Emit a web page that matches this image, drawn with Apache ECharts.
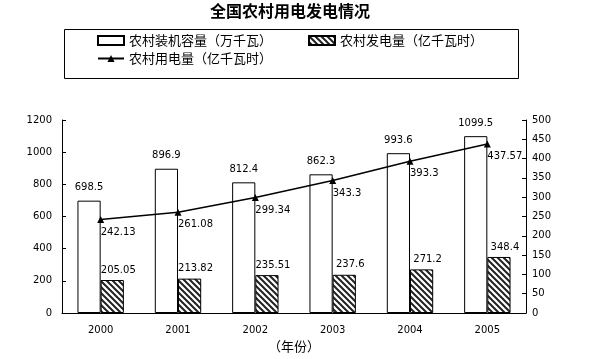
<!DOCTYPE html>
<html><head><meta charset="utf-8">
<script src="https://cdn.jsdelivr.net/npm/echarts@6/dist/echarts.min.js"></script>
<style>html,body{margin:0;padding:0;background:#fff}#c{width:599px;height:359px}</style>
</head><body><div id="c"></div>
<script>
const years = ['2000','2001','2002','2003','2004','2005'];
const capacity = [698.5, 896.9, 812.4, 862.3, 993.6, 1099.5];
const generation = [205.05, 213.82, 235.51, 237.6, 271.2, 348.4];
const consumption = [242.13, 261.08, 299.34, 343.3, 393.3, 437.57];
const names = ['农村装机容量（万千瓦）', '农村发电量（亿千瓦时）', '农村用电量（亿千瓦时）'];

const pc = document.createElement('canvas');
pc.width = 6; pc.height = 6;
const g = pc.getContext('2d');
g.fillStyle = '#fff'; g.fillRect(0,0,6,6);
g.strokeStyle = '#222'; g.lineWidth = 2;
g.beginPath();
g.moveTo(-1,-1); g.lineTo(7,7);
g.moveTo(-4,2); g.lineTo(4,10);
g.moveTo(2,-4); g.lineTo(10,4);
g.stroke();

const numFont = 'DejaVu Sans';
const cjk = '"Noto Sans CJK SC", sans-serif';
const chart = echarts.init(document.getElementById('c'), null, {renderer: 'canvas'});
const legendBase = {
  itemWidth: 26, itemHeight: 9, itemGap: 5, padding: 0,
  textStyle: {fontFamily: cjk, fontSize: 13, color: '#000'},
  selectedMode: false
};
const plain = v => String(v);
chart.setOption({
  animation: false,
  title: {text: '全国农村用电发电情况', left: 210, top: 3, padding: 0,
    textStyle: {fontFamily: cjk, fontSize: 16, fontWeight: 'bold', color: '#000'}},
  graphic: [{type: 'rect', shape: {x: 64.5, y: 29.5, width: 454, height: 49},
    style: {fill: 'none', stroke: '#000', lineWidth: 1}}],
  legend: [
    Object.assign({}, legendBase, {left: 97, top: 34, data: [{name: names[0], icon: 'rect'}]}),
    Object.assign({}, legendBase, {left: 308, top: 34, data: [{name: names[1], icon: 'rect'}]}),
    Object.assign({}, legendBase, {left: 97, top: 52, data: [names[2]]})
  ],
  grid: {left: 62, right: 73, top: 120, bottom: 46},
  xAxis: {
    type: 'category', data: years,
    name: '（年份）', nameLocation: 'middle', nameGap: 26,
    nameTextStyle: {fontFamily: cjk, fontSize: 13, color: '#000'},
    axisLine: {lineStyle: {color: '#000'}},
    axisTick: {inside: true, length: 5, lineStyle: {color: '#000'}},
    axisLabel: {fontFamily: numFont, fontSize: 10, color: '#000', margin: 12}
  },
  yAxis: [
    {type: 'value', min: 0, max: 1200, interval: 200,
      splitLine: {show: false},
      axisLine: {show: true, lineStyle: {color: '#000'}},
      axisTick: {show: true, inside: true, length: 4, lineStyle: {color: '#000'}},
      axisLabel: {fontFamily: numFont, fontSize: 10, color: '#000', margin: 10, formatter: plain}},
    {type: 'value', min: 0, max: 500, interval: 50,
      splitLine: {show: false},
      axisLine: {show: true, lineStyle: {color: '#000'}},
      axisTick: {show: true, inside: true, length: 4, lineStyle: {color: '#000'}},
      axisLabel: {fontFamily: numFont, fontSize: 10, color: '#000', margin: 6, formatter: plain}}
  ],
  series: [
    {name: names[0], type: 'bar', data: capacity, yAxisIndex: 0,
      barGap: '0%', barCategoryGap: '40%',
      itemStyle: {color: '#fff', borderColor: '#000', borderWidth: 1},
      label: {show: true, position: 'top', distance: 8, fontFamily: numFont, fontSize: 10, color: '#000'}},
    {name: names[1], type: 'bar', data: generation, yAxisIndex: 0,
      itemStyle: {color: {image: pc, repeat: 'repeat'}, borderColor: '#000', borderWidth: 1},
      label: {show: true, position: 'top', distance: 5, offset: [6, 0], fontFamily: numFont, fontSize: 10, color: '#000'}},
    {name: names[2], type: 'line', data: consumption, yAxisIndex: 1,
      symbol: 'triangle', symbolSize: 7,
      lineStyle: {color: '#000', width: 1.5},
      itemStyle: {color: '#000'},
      label: {show: true, position: 'bottom', distance: 4, align: 'left', offset: [0, 0],
        fontFamily: numFont, fontSize: 10, color: '#000'}}
  ]
});
</script></body></html>
